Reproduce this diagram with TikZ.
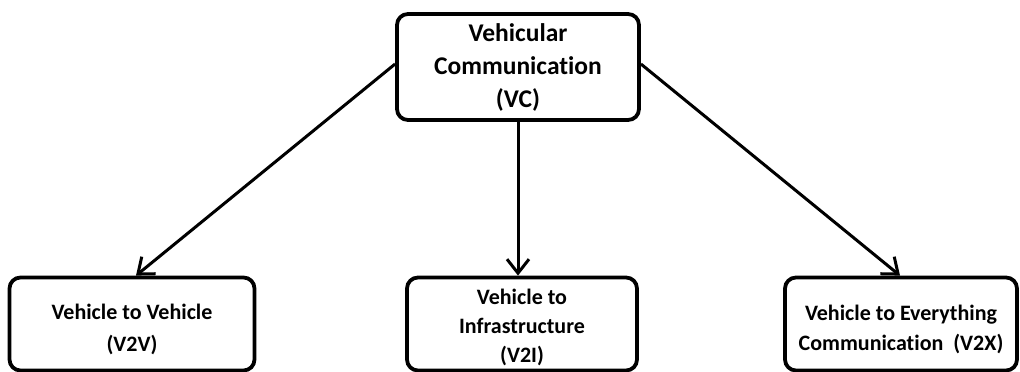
\documentclass[tikz,border=0pt]{standalone}
\usepackage{fontspec}
\setmainfont{Carlito}[Ligatures=NoCommon]
\usetikzlibrary{arrows.meta}
\begin{document}
\begin{tikzpicture}[x=1pt,y=-1pt,
  box/.style={draw=black, line width=3.8pt, rounded corners=11pt, fill=white,
    align=center, inner sep=0pt, font=\bfseries},
  leaf/.style={box, minimum height=93pt},
  leaftext/.style={align=center, inner sep=0pt, yshift=-5pt,
    font=\bfseries\fontsize{22}{30}\selectfont},
  link/.style={line width=3pt, -{Straight Barb[length=14pt,width=22pt,line width=3pt]}}]
  \useasboundingbox (0,0) rectangle (1020,372);
  % root node
  \node[box, minimum width=242pt, minimum height=106pt,
        font=\bfseries\fontsize{25.5}{33}\selectfont] (vc) at (518,67)
        {Vehicular\\Communication\\(VC)};
  % three kinds of communication: frames, then their captions
  \node[leaf, minimum width=245pt] (v2v) at (132,324) {};
  \node[leaf, minimum width=230pt] (v2i) at (522,324) {};
  \node[leaf, minimum width=232pt] (v2x) at (901,324) {};
  \node[leaftext, font=\bfseries\fontsize{22}{32}\selectfont] (v2v-t) at (v2v.center)
        {Vehicle to Vehicle\\(V2V)};
  \node[leaftext, yshift=2pt, font=\bfseries\fontsize{22}{29}\selectfont] (v2i-t) at (v2i.center)
        {Vehicle to\\Infrastructure\\(V2I)};
  \node[leaftext] (v2x-t) at (v2x.center)
        {Vehicle to Everything\\Communication~~(V2X)};
  % connectors
  \draw[link] ([yshift=3pt]vc.west) -- ([xshift=4pt]v2v.north);
  \draw[link] (vc.south) -- (vc.south |- v2i.north);
  \draw[link] ([yshift=3pt]vc.east) -- ([xshift=-1pt]v2x.north);
\end{tikzpicture}
\end{document}
